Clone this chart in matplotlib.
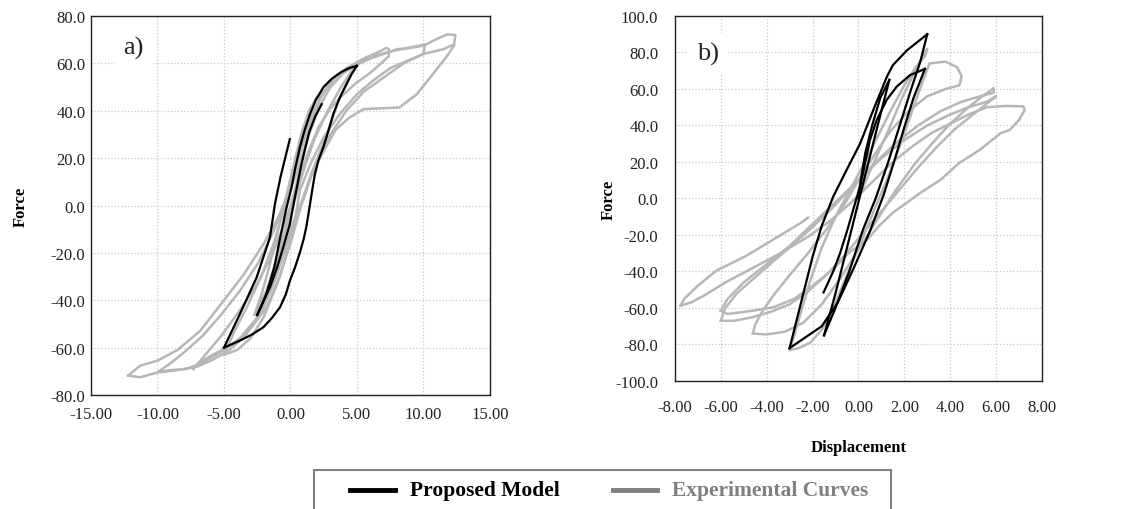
import numpy as np
import matplotlib
matplotlib.use("Agg")
import matplotlib.pyplot as plt
from matplotlib.lines import Line2D
from matplotlib.patches import Rectangle

plt.rcParams['font.family'] = ['Liberation Serif', 'DejaVu Serif']

# ---- panel a) : proposed model branches (displacement, force)
a_model = [
    [(-5.0, -60), (-3.8, -45.8), (-2.54, -30.3), (-1.54, -13.4), (-1.17, 0.6), (-0.75, 12), (-0.4, 20), (-0.05, 28)],
    [(-5.0, -60), (-4.4, -58.5), (-3.8, -57), (-2.9, -54.5), (-2.04, -51.4), (-1.4, -47.5), (-0.79, -43), (-0.35, -37.5),
     (-0.04, -31.7), (0.35, -26), (0.7, -20), (1.0, -14), (1.2, -8.8), (1.47, 0.6), (1.65, 7), (1.84, 13.3), (2.1, 19),
     (2.47, 24.6), (2.85, 31.5), (3.22, 38.6), (3.7, 45.5), (4.22, 51.3), (4.6, 55.5), (5.0, 59)],
    [(5.0, 59), (4.4, 58), (3.78, 56.2), (3.1, 53.5), (2.47, 49.9), (1.9, 44.5), (1.47, 38.6), (1.05, 31.5), (0.71, 24.7),
     (0.35, 15.5), (0.09, 7.8), (-0.3, -1), (-0.7, -11.6), (-0.95, -18.5), (-1.2, -25.7), (-1.5, -31.5), (-1.8, -37),
     (-2.15, -42), (-2.5, -46.2)],
    [(-2.5, -46.2), (-2.0, -40), (-1.54, -34.5), (-1.0, -26), (-0.54, -17.6), (-0.04, -7.8), (0.3, 2.5), (0.8, 16.7),
     (1.1, 24), (1.4, 30.8), (1.85, 37.5), (2.35, 42.8)],
]

# ---- panel a) : experimental curves (cycles)
a_test = [
    [(-2.5, -44), (-1.8, -36), (-1.0, -22), (-0.3, -8), (0.3, 6), (0.9, 20), (1.5, 33), (2.0, 42), (2.4, 48),
     (2.0, 46), (1.4, 40), (0.8, 30), (0.2, 16), (-0.4, 2), (-1.0, -12), (-1.6, -26), (-2.2, -38), (-2.7, -46)],
    [(-2.7, -46), (-2.0, -40), (-1.2, -28), (-0.4, -12), (0.3, 2), (1.0, 15), (1.8, 28), (2.8, 40), (3.8, 50),
     (4.5, 56), (5.0, 60), (4.2, 58), (3.3, 54), (2.5, 48), (1.7, 39), (1.0, 28), (0.3, 14), (-0.4, 0), (-1.2, -15),
     (-2.2, -30), (-3.2, -42), (-4.2, -53), (-5.0, -63)],
    [(-5.0, -63), (-4.0, -61), (-3.0, -56), (-2.0, -47), (-1.0, -33), (0.0, -16), (0.8, 0), (1.6, 14), (2.6, 28),
     (3.6, 44), (4.4, 54), (5.0, 60.5), (5.7, 62.6), (6.5, 64.5), (7.2, 66.5), (7.4, 66), (7.4, 63), (6.8, 60),
     (6.0, 56), (5.0, 52), (4.0, 47), (3.0, 41), (2.1, 33), (1.3, 22), (0.5, 8), (-0.4, -7), (-1.4, -21),
     (-2.6, -34), (-3.9, -45), (-5.2, -55), (-6.4, -63), (-7.3, -69)],
    [(-7.3, -69), (-6.8, -66), (-5.5, -62), (-4.2, -58), (-3.0, -52), (-1.8, -43), (-0.8, -30), (0.0, -15), (0.8, 0),
     (1.8, 16), (3.0, 30), (4.2, 40), (5.5, 48), (7.0, 54), (8.5, 60), (10.0, 64), (10.1, 68), (8.8, 66.5),
     (7.5, 65), (6.2, 63), (5.2, 61), (4.2, 58), (3.2, 53), (2.2, 45), (1.4, 34), (0.6, 20), (-0.2, 5),
     (-1.2, -10), (-2.4, -24), (-3.8, -36), (-5.2, -46), (-6.6, -55), (-8.0, -62), (-9.0, -66.5), (-9.9, -70)],
    [(-9.9, -70), (-9.0, -69.5), (-7.8, -69), (-6.5, -66), (-5.0, -61), (-3.8, -56), (-2.6, -48), (-1.5, -36),
     (-0.5, -20), (0.4, -4), (0.7, 6.2), (1.5, 17.5), (2.5, 28.8), (3.7, 38.6), (5.0, 47), (6.2, 52.7), (7.5, 58),
     (10.0, 64), (11.5, 66), (12.3, 68), (12.4, 72), (11.8, 72.3), (11.0, 70.3), (10.0, 67.5), (9.0, 66.5),
     (8.0, 66), (7.0, 64), (6.0, 62), (5.0, 59.5), (4.0, 56), (3.0, 50), (2.2, 42), (1.4, 30), (0.6, 16),
     (-0.2, 4), (-1.0, -6), (-2.0, -16), (-3.5, -29), (-5.0, -40), (-6.8, -53), (-8.5, -61), (-10.0, -65.5),
     (-11.3, -67.6), (-12.2, -71.8)],
    [(-12.2, -71.8), (-11.3, -72.5), (-10.0, -70.5), (-8.5, -69.5), (-7.0, -68), (-5.8, -65), (-4.6, -61),
     (-3.4, -55), (-2.2, -45), (-1.2, -32), (-0.3, -17), (0.6, -2), (1.5, 12), (2.4, 22), (3.4, 32), (4.4, 37),
     (5.5, 40.7), (8.2, 41.4), (9.5, 47), (10.5, 54), (11.7, 62.6), (12.3, 67.5)],
]

# ---- panel b) : proposed model branches
b_model = [
    [(0.0, 0), (0.1, 10), (0.3, 25), (0.6, 40), (0.95, 55), (1.35, 65)],
    [(1.35, 65), (1.0, 48), (0.6, 28), (0.2, 8), (-0.2, -12), (-0.6, -32), (-1.0, -52), (-1.5, -75)],
    [(-1.5, -75), (-1.0, -60), (-0.4, -40), (0.2, -17), (0.75, 0), (1.3, 20), (1.8, 40), (2.3, 60), (2.7, 75), (3.0, 90)],
    [(3.0, 90), (2.6, 86), (2.1, 81), (1.5, 73), (1.25, 67), (0.65, 48.5), (0.07, 30), (-0.5, 16), (-1.1, 1),
     (-1.6, -15), (-2.0, -32), (-2.4, -52), (-2.7, -67), (-3.0, -82)],
    [(-3.0, -82), (-2.3, -76), (-1.6, -70), (-0.9, -57), (-0.2, -38), (0.5, -18), (1.1, 2), (1.6, 22), (2.0, 39),
     (2.4, 55), (2.9, 71)],
    [(2.9, 71), (2.25, 67.6), (1.67, 61.3), (1.23, 54), (0.8, 43), (0.5, 32), (0.3, 20), (0.1, 8), (-0.2, -5),
     (-0.5, -18), (-0.8, -30), (-1.1, -40), (-1.52, -51.5)],
]

# ---- panel b) : experimental curves
b_test = [
    [(0.0, 0), (0.4, 12), (0.9, 26), (1.4, 40), (1.9, 55), (2.4, 68), (2.8, 78), (3.0, 82), (2.9, 78), (2.5, 72),
     (2.0, 62), (1.4, 48), (0.8, 33), (0.2, 18), (-0.4, 4), (-1.0, -10), (-1.6, -27), (-2.1, -45), (-2.5, -62),
     (-2.8, -75), (-3.0, -83)],
    [(-3.0, -83), (-2.6, -82), (-2.1, -79), (-1.6, -72), (-1.1, -60), (-0.5, -42), (0.1, -24), (0.7, -6), (1.3, 12),
     (1.9, 32), (2.4, 50), (2.8, 64), (3.1, 74), (3.8, 75), (4.3, 72), (4.5, 67), (4.4, 62), (3.8, 60), (3.0, 56),
     (2.2, 48), (1.4, 37), (0.7, 24), (0.0, 10), (-0.6, -3), (-1.4, -17), (-2.2, -30), (-3.0, -42), (-3.7, -53),
     (-4.2, -62), (-4.5, -69), (-4.6, -74)],
    [(-4.6, -74), (-4.0, -74.5), (-3.2, -73), (-2.4, -68), (-1.6, -58), (-0.8, -44), (0.0, -28), (0.8, -12),
     (1.6, 4), (2.4, 18), (3.2, 30), (4.0, 41), (4.8, 50), (5.4, 56), (5.9, 60.5), (5.9, 58), (5.3, 56), (4.5, 53),
     (3.6, 48), (2.6, 40), (1.6, 30), (0.6, 18), (-0.3, 6), (-1.2, -6), (-2.2, -18), (-3.3, -30), (-4.4, -42),
     (-5.3, -52), (-5.8, -60), (-6.0, -67)],
    [(-6.0, -67), (-5.4, -67), (-4.6, -65), (-3.8, -62), (-3.0, -58), (-2.2, -51), (-1.4, -42), (-0.6, -31),
     (0.2, -19), (1.0, -7), (1.8, 5), (2.6, 17), (3.4, 28), (4.2, 38), (5.0, 46), (5.6, 52), (6.0, 56), (5.6, 53),
     (4.8, 50), (4.0, 46), (3.0, 40), (2.0, 32), (1.0, 22), (0.0, 10), (-1.0, -2), (-2.0, -14), (-3.0, -26),
     (-4.0, -36), (-5.0, -46), (-5.7, -55), (-6.0, -61.5)],
    [(-6.0, -61.5), (-5.7, -63.3), (-4.6, -61.5), (-3.7, -59.6), (-2.8, -55), (-2.0, -47.8), (-1.1, -38.7),
     (-0.4, -29.6), (0.4, -22.4), (0.9, -15), (1.5, -7.8), (2.1, -2.4), (2.7, 3.1), (3.6, 10.4), (4.4, 19.5),
     (5.3, 26.7), (6.2, 35.8), (6.6, 37.6), (7.0, 43), (7.25, 48.5), (7.2, 50.5), (6.4, 50.7), (5.6, 50),
     (4.8, 46), (4.0, 41), (3.2, 36), (2.4, 29), (1.5, 20), (0.6, 9), (-0.3, -2), (-1.2, -12), (-2.2, -21),
     (-3.4, -30), (-4.6, -38), (-5.8, -46), (-6.7, -53), (-7.3, -57), (-7.75, -58.7)],
    [(-7.75, -58.7), (-7.6, -55), (-7.0, -47.8), (-6.2, -39.6), (-4.9, -31.5), (-3.7, -22.4), (-2.5, -13.3),
     (-2.2, -10.5)],
]

a_xticks = np.arange(-15, 15.1, 5)
a_yticks = np.arange(-80, 80.1, 20)
b_xticks = np.arange(-8, 8.1, 2)
b_yticks = np.arange(-100, 100.1, 20)

legend_labels = ['Proposed Model', 'Experimental Curves']

EXP_GRAY = '#b7b7b7'
LEG_GRAY = '#808080'


def draw(ax, tests, model):
    for br in tests:
        xy = np.array(br)
        ax.plot(xy[:, 0], xy[:, 1], color=EXP_GRAY, lw=1.8, solid_joinstyle='round', zorder=2)
    for br in model:
        xy = np.array(br)
        ax.plot(xy[:, 0], xy[:, 1], color='black', lw=1.6, solid_joinstyle='round', zorder=3)


def style(ax, xt, yt, xpad, ypad):
    ax.set_xticks(xt)
    ax.set_yticks(yt)
    ax.set_xlim(xt[0], xt[-1])
    ax.set_ylim(yt[0], yt[-1])
    ax.set_xticklabels([f"{v:.2f}" for v in xt])
    ax.set_yticklabels([f"{v:.1f}" for v in yt])
    ax.tick_params(length=0, labelsize=12, colors='#222222')
    ax.tick_params(axis='x', pad=xpad)
    ax.tick_params(axis='y', pad=ypad)
    ax.grid(True, color='#c8c8c8', ls=':', lw=0.9, zorder=0)
    ax.set_axisbelow(True)
    for s in ax.spines.values():
        s.set_color('#222222')
        s.set_linewidth(1.0)


fig = plt.figure(figsize=(11.23, 5.10), dpi=100)
ax1 = fig.add_axes([0.081, 0.2235, 0.3553, 0.7431])
ax2 = fig.add_axes([0.601, 0.251, 0.3268, 0.7157])

draw(ax1, a_test, a_model)
draw(ax2, b_test, b_model)
style(ax1, a_xticks, a_yticks, 8, 4)
style(ax2, b_xticks, b_yticks, 13, 12)

ax1.text(-11.8, 66.8, 'a)', fontsize=19, ha='center', va='center', color='#222222',
         bbox=dict(facecolor='white', edgecolor='none', pad=6), zorder=4)
ax2.text(-6.57, 79.5, 'b)', fontsize=19, ha='center', va='center', color='#222222',
         bbox=dict(facecolor='white', edgecolor='none', pad=6), zorder=4)

ax1.set_ylabel('Force', fontsize=12, fontweight='bold', labelpad=16)
ax2.set_ylabel('Force', fontsize=12, fontweight='bold', labelpad=-1)
ax2.set_xlabel('Displacement', fontsize=12, fontweight='bold', labelpad=17)

# legend box along the bottom edge (open at the bottom like the source)
W, H = 1123, 510
fig.add_artist(Rectangle((314 / W, -0.05), (891 - 314) / W, 0.05 + (H - 471) / H,
                         transform=fig.transFigure, fill=False, ec=LEG_GRAY, lw=1.5))
ly = 1 - 491 / H
fig.add_artist(Line2D([350 / W, 395 / W], [ly, ly], transform=fig.transFigure, color='black', lw=3.5))
fig.add_artist(Line2D([613 / W, 657 / W], [ly, ly], transform=fig.transFigure, color=LEG_GRAY, lw=3.5))
fig.text(410 / W, ly, legend_labels[0], fontsize=15.5, fontweight='bold', color='black', va='center')
fig.text(672 / W, ly, legend_labels[1], fontsize=15.5, fontweight='bold', color=LEG_GRAY, va='center')

fig.savefig('out.png', dpi=100)
